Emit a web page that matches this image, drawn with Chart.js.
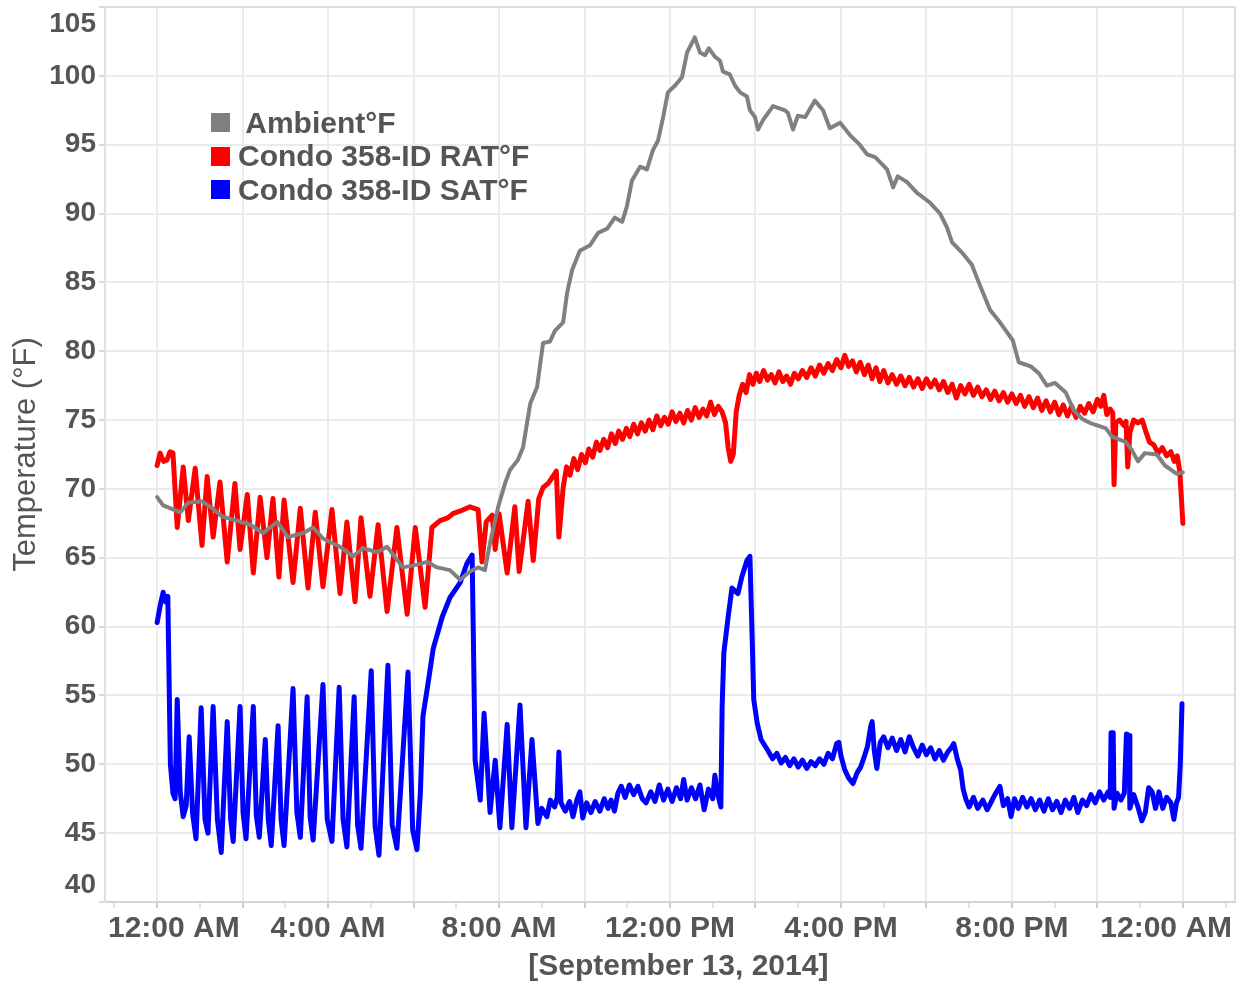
<!DOCTYPE html>
<html>
<head>
<meta charset="utf-8">
<script src="https://cdn.jsdelivr.net/npm/chart.js@4"></script>
<style>
  body { margin: 0; background: #fff; }
  #wrap { position: relative; width: 1246px; height: 987px; }
  #legend { position: absolute; left: 211px; top: 106px; font: bold 30px "Liberation Sans", Arial, sans-serif; color: #555; }
  .row { display: flex; align-items: center; height: 33.5px; white-space: pre; }
  .box { width: 19px; height: 19px; margin-right: 8px; }
</style>
</head>
<body>
<div id="wrap">
  <canvas id="chart" width="1246" height="987"></canvas>
  <div id="legend"></div>
</div>
<script>
// hours after midnight, Sept 13 2014
const tickHours = [0, 4, 8, 12, 16, 20, 24];
const tickLabels = ['12:00 AM', '4:00 AM', '8:00 AM', '12:00 PM', '4:00 PM', '8:00 PM', '12:00 AM'];

const seriesNames = [' Ambient°F', 'Condo 358-ID RAT°F', 'Condo 358-ID SAT°F'];
const seriesColors = ['#808080', '#ff0000', '#0000ff'];

const ambientHours = [0, 0.14, 0.30, 0.54, 0.73, 1.05, 1.29, 1.52, 1.87, 2.18, 2.48, 2.81, 3.06, 3.42, 3.65, 3.88,
  4.28, 4.58, 4.82, 5.15, 5.38, 5.75, 6.08, 6.32, 6.55, 6.85, 7.09, 7.32, 7.51, 7.67, 7.79, 7.98, 8.14, 8.26,
  8.44, 8.56, 8.73, 8.89, 9.03, 9.19, 9.31, 9.50, 9.59, 9.71, 9.89, 10.13, 10.32, 10.53, 10.71, 10.88, 10.99,
  11.11, 11.30, 11.46, 11.60, 11.72, 11.84, 11.95, 12.12, 12.28, 12.40, 12.58, 12.70, 12.82, 12.91, 13.05,
  13.17, 13.24, 13.40, 13.52, 13.64, 13.80, 13.87, 13.99, 14.06, 14.18, 14.41, 14.69, 14.76, 14.88, 14.99,
  15.16, 15.39, 15.58, 15.74, 15.98, 16.21, 16.44, 16.61, 16.80, 17.08, 17.22, 17.33, 17.54, 17.78, 18.08,
  18.32, 18.48, 18.60, 18.85, 19.06, 19.25, 19.49, 19.72, 20.02, 20.16, 20.44, 20.63, 20.82, 21.01, 21.26,
  21.45, 21.64, 21.82, 22.01, 22.20, 22.34, 22.67, 22.81, 22.95, 23.11, 23.39, 23.58, 23.86, 24.0];
const ambientTemps = [69.4, 68.8, 68.6, 68.3, 69.0, 69.1, 68.6, 68.0, 67.7, 67.4, 66.8, 67.6, 66.5, 66.8, 67.2, 66.4,
  65.8, 65.1, 65.7, 65.4, 65.8, 64.3, 64.5, 64.7, 64.3, 64.1, 63.4, 64.0, 64.3, 64.1, 66.1, 68.7, 70.4, 71.4,
  72.1, 73.0, 76.2, 77.4, 80.6, 80.7, 81.5, 82.1, 84.2, 85.9, 87.3, 87.7, 88.6, 88.9, 89.7, 89.4, 90.5,
  92.4, 93.4, 93.2, 94.6, 95.3, 97.0, 98.8, 99.3, 99.9, 101.7, 102.8, 101.7, 101.5, 102.0, 101.4,
  101.1, 100.3, 100.1, 99.3, 98.8, 98.5, 97.5, 97.0, 96.1, 96.8, 97.8, 97.5, 97.3, 96.1, 97.1,
  97.0, 98.2, 97.5, 96.2, 96.6, 95.7, 95.0, 94.3, 94.1, 93.2, 91.9, 92.7, 92.3, 91.5, 90.8,
  90.0, 89.0, 87.9, 87.1, 86.3, 84.8, 83.0, 82.1, 80.8, 79.2, 78.9, 78.4, 77.5, 77.7, 77.0,
  75.7, 75.1, 74.8, 74.6, 74.4, 73.8, 73.4, 72.8, 72.0, 72.6, 72.5, 71.7, 71.1, 71.2];

const ratHours = [0, 0.07, 0.15, 0.23, 0.30, 0.37, 0.47, 0.61, 0.73, 0.89, 1.05, 1.17, 1.31, 1.47, 1.64, 1.82,
  1.94, 2.11, 2.25, 2.41, 2.57, 2.71, 2.85, 2.97, 3.18, 3.35, 3.53, 3.70, 3.88, 4.09, 4.28, 4.44, 4.63, 4.77,
  4.98, 5.17, 5.38, 5.61, 5.85, 6.04, 6.27, 6.43, 6.62, 6.80, 6.92, 7.10, 7.32, 7.51, 7.60, 7.70, 7.84, 7.91,
  8.00, 8.19, 8.37, 8.47, 8.68, 8.80, 8.93, 9.03, 9.15, 9.26, 9.34, 9.40, 9.50,
  9.58, 9.66, 9.75, 9.84, 9.93, 10.02, 10.10, 10.19, 10.28, 10.36, 10.45, 10.54, 10.63, 10.72, 10.80, 10.89,
  10.98, 11.06, 11.15, 11.24, 11.33, 11.42, 11.51, 11.60, 11.69, 11.78, 11.87, 11.96, 12.05, 12.14, 12.23,
  12.32, 12.41, 12.50, 12.59, 12.68, 12.77, 12.86, 12.95, 13.04, 13.13, 13.22, 13.30, 13.36, 13.42, 13.48,
  13.55, 13.62, 13.70, 13.78, 13.86, 13.94, 14.02, 14.10, 14.19, 14.28, 14.37, 14.46, 14.55, 14.64, 14.73,
  14.82, 14.91, 15.00, 15.10, 15.20, 15.30, 15.40, 15.50, 15.60, 15.70, 15.80, 15.90, 16.00, 16.09, 16.18,
  16.27, 16.36, 16.45, 16.55, 16.64, 16.73, 16.82, 16.91, 17.00, 17.10, 17.20, 17.30, 17.40, 17.50, 17.60,
  17.70, 17.80, 17.90, 18.00, 18.10, 18.20, 18.30, 18.40, 18.50, 18.60, 18.70, 18.80, 18.90, 19.00, 19.10,
  19.20, 19.30, 19.40, 19.50, 19.60, 19.70, 19.80, 19.90, 20.00, 20.10, 20.20, 20.30, 20.40, 20.50, 20.60,
  20.70, 20.80, 20.90, 21.00, 21.10, 21.20, 21.30, 21.40, 21.50, 21.60, 21.70, 21.80, 21.90, 22.00, 22.08,
  22.15, 22.22, 22.30, 22.36, 22.39, 22.43, 22.52, 22.62, 22.67, 22.71, 22.76, 22.85, 22.95, 23.05, 23.13,
  23.22, 23.32, 23.42, 23.52, 23.62, 23.72, 23.80, 23.87, 23.93, 24.0];
const ratTemps = [71.7, 72.6, 72.0, 72.1, 72.7, 72.6, 67.2, 71.6, 67.7, 71.5, 65.9, 70.9, 66.5, 70.5, 64.7, 70.4,
  65.6, 69.6, 63.9, 69.4, 65.0, 69.3, 63.6, 69.2, 63.2, 68.6, 62.8, 68.3, 62.9, 68.5, 62.4, 67.6, 61.8, 67.9,
  62.2, 67.4, 61.1, 67.2, 60.9, 67.2, 61.4, 67.2, 67.7, 67.9, 68.2, 68.4, 68.7, 68.5, 64.7, 67.6, 68.1, 65.6,
  68.2, 63.9, 68.7, 64.0, 69.1, 64.8, 69.3, 70.1, 70.4, 70.9, 71.3, 66.5, 70.1,
  71.6, 71.0, 72.2, 71.4, 72.5, 71.9, 72.9, 72.3, 73.4, 72.8, 73.6, 73.0, 74.0, 73.3, 74.2, 73.6,
  74.4, 73.8, 74.7, 74.0, 74.8, 74.2, 75.0, 74.3, 75.3, 74.6, 75.2, 74.7, 75.6, 74.9, 75.5,
  74.8, 75.7, 75.0, 75.9, 75.2, 75.8, 75.3, 76.3, 75.4, 76.0, 75.6, 74.8, 73.0, 72.0, 72.5,
  75.6, 76.8, 77.6, 77.0, 78.3, 77.6, 78.4, 77.8, 78.6, 77.9, 78.3, 77.7, 78.5, 77.8, 78.2,
  77.6, 78.4, 78.0, 78.6, 78.1, 78.8, 78.2, 79.0, 78.4, 79.1, 78.6, 79.4, 78.8, 79.7, 78.9,
  79.3, 78.5, 79.2, 78.3, 79.0, 78.0, 78.8, 77.8, 78.6, 77.7, 78.3, 77.6, 78.2, 77.5, 78.1,
  77.4, 78.0, 77.3, 78.0, 77.4, 77.9, 77.2, 77.8, 77.0, 77.6, 76.6, 77.5, 76.9, 77.6, 76.8,
  77.4, 76.7, 77.2, 76.5, 77.1, 76.4, 77.0, 76.3, 76.9, 76.2, 76.8, 76.0, 76.7, 75.9, 76.6,
  75.7, 76.4, 75.6, 76.3, 75.4, 76.1, 75.3, 76.0, 75.2, 76.0, 75.5, 76.2, 75.6, 76.5, 76.0,
  76.8, 75.4, 75.8, 75.5, 70.3, 74.8, 75.0, 74.6, 74.9, 71.6, 74.1, 75.0, 74.8, 75.0, 74.2,
  73.4, 73.2, 72.6, 73.0, 72.4, 72.7, 72.0, 72.4, 71.2, 67.5];

const satHours = [0, 0.07, 0.14, 0.20, 0.25, 0.28, 0.31, 0.37, 0.42, 0.47, 0.54, 0.61, 0.68, 0.75, 0.83, 0.91,
  1.03, 1.12, 1.19, 1.31, 1.41, 1.50, 1.64, 1.72, 1.78, 1.94, 2.01, 2.08, 2.25, 2.32, 2.39, 2.53, 2.60, 2.67,
  2.83, 2.90, 2.97, 3.18, 3.27, 3.35, 3.51, 3.58, 3.65, 3.88, 3.98, 4.09, 4.26, 4.35, 4.44, 4.61, 4.69, 4.77,
  5.01, 5.10, 5.19, 5.40, 5.50, 5.61, 5.87, 5.98, 6.08, 6.16, 6.22, 6.32, 6.46, 6.67, 6.85, 7.09, 7.25, 7.37,
  7.40, 7.44, 7.56, 7.65, 7.79, 7.91, 8.02, 8.19, 8.30, 8.49, 8.63, 8.77, 8.91,
  9.00, 9.12, 9.20, 9.30, 9.36, 9.40, 9.45, 9.55, 9.65, 9.73, 9.82, 9.89, 9.96, 10.05, 10.15, 10.25, 10.36,
  10.46, 10.55, 10.62, 10.70, 10.78, 10.86, 10.95, 11.05, 11.15, 11.25, 11.35, 11.44, 11.55, 11.65, 11.75,
  11.85, 11.95, 12.05, 12.15, 12.25, 12.32, 12.40, 12.50, 12.60, 12.70, 12.80, 12.90, 13.00, 13.05, 13.12,
  13.19, 13.22, 13.26, 13.36, 13.45, 13.59, 13.68, 13.80, 13.87, 13.92, 13.96, 14.04, 14.13, 14.29, 14.40,
  14.50, 14.60, 14.70, 14.80, 14.90, 15.00, 15.10, 15.20, 15.30, 15.40, 15.50, 15.60, 15.70, 15.80, 15.90,
  15.95, 16.00, 16.09, 16.18, 16.28, 16.38, 16.46, 16.54, 16.62, 16.70, 16.73, 16.78, 16.84, 16.92, 17.00,
  17.10, 17.20, 17.30, 17.40, 17.50, 17.60, 17.70, 17.80, 17.90, 18.00, 18.10, 18.20, 18.30, 18.40, 18.50,
  18.60, 18.64, 18.72, 18.80, 18.86, 18.92, 19.00, 19.10, 19.20, 19.32, 19.42, 19.52, 19.62, 19.72, 19.80,
  19.90, 19.98, 20.06, 20.15, 20.25, 20.35, 20.45, 20.55, 20.65, 20.75, 20.85, 20.95, 21.05, 21.15, 21.25,
  21.35, 21.45, 21.54, 21.65, 21.75, 21.85, 21.95, 22.05, 22.15, 22.25, 22.30, 22.32, 22.37, 22.39, 22.46,
  22.55, 22.63, 22.68, 22.74, 22.76, 22.85, 22.95, 23.04, 23.12, 23.20, 23.28, 23.36, 23.44, 23.53, 23.62,
  23.72, 23.79, 23.85, 23.90, 23.94, 23.98];
const satTemps = [60.3, 61.5, 62.5, 61.8, 62.2, 56.0, 50.0, 47.9, 47.5, 54.7, 48.0, 46.2, 47.0, 52.0, 46.4, 44.6,
  54.1, 46.0, 45.0, 54.2, 46.0, 43.6, 53.1, 46.0, 44.4, 54.2, 46.5, 44.6, 54.2, 46.3, 44.7, 51.8, 46.0, 44.1,
  52.8, 46.0, 44.1, 55.5, 46.5, 44.7, 54.9, 46.2, 44.5, 55.8, 46.0, 44.4, 55.6, 46.0, 44.0, 54.9, 45.6, 43.9,
  56.8, 45.5, 43.4, 57.2, 45.6, 43.9, 56.7, 45.2, 43.8, 48.0, 53.5, 55.5, 58.4, 60.7, 62.1, 63.2, 64.6, 65.2,
  59.0, 50.3, 47.4, 53.7, 46.5, 50.3, 45.4, 52.9, 45.4, 54.3, 45.4, 51.8, 45.7,
  46.8, 46.2, 47.4, 46.9, 47.6, 50.9, 47.2, 46.6, 47.3, 46.2, 47.4, 48.0, 46.1, 47.2, 46.5, 47.3, 46.6,
  47.5, 46.8, 47.4, 46.6, 47.9, 48.4, 47.6, 48.5, 47.8, 48.4, 47.5, 47.2, 48.0, 47.3, 48.5,
  47.4, 48.2, 47.3, 48.3, 47.5, 48.9, 47.4, 48.3, 47.5, 48.5, 46.7, 48.2, 47.5, 49.2, 47.8,
  46.9, 54.2, 58.1, 60.7, 62.8, 62.4, 63.6, 64.8, 65.1, 59.5, 54.7, 53.0, 51.8, 51.0, 50.4,
  50.8, 50.1, 50.5, 49.9, 50.4, 49.8, 50.3, 49.7, 50.2, 49.9, 50.4, 50.0, 50.8, 50.4, 51.5,
  51.6, 50.6, 49.6, 49.0, 48.6, 49.4, 49.8, 50.5, 51.3, 52.8, 53.1, 51.0, 49.7, 51.6, 52.0,
  51.2, 51.9, 51.0, 51.8, 50.9, 52.0, 51.2, 50.6, 51.4, 50.7, 51.2, 50.4, 51.0, 50.3, 50.9,
  51.3, 51.5, 50.4, 49.6, 48.2, 47.5, 46.9, 47.6, 46.8, 47.4, 46.7, 47.3, 47.9, 48.4, 47.0,
  47.5, 46.2, 47.5, 46.8, 47.6, 46.9, 47.5, 46.7, 47.4, 46.6, 47.5, 46.7, 47.3, 46.5, 47.4,
  46.8, 47.6, 46.5, 47.4, 47.0, 47.8, 47.2, 48.0, 47.4, 48.0, 47.6, 52.3, 52.3, 46.8, 47.9,
  47.4, 47.9, 52.2, 52.1, 46.8, 47.8, 46.9, 45.9, 46.5, 48.3, 48.0, 46.8, 48.0, 46.8, 47.6,
  47.2, 46.0, 47.2, 47.6, 50.0, 54.4];

const pairs = (xs, ys) => xs.map((x, i) => ({ x: x, y: ys[i] }));

const legend = document.getElementById('legend');
seriesNames.forEach((name, i) => {
  const row = document.createElement('div');
  row.className = 'row';
  row.innerHTML = '<span class="box" style="background:' + seriesColors[i] + '"></span><span>' + name + '</span>';
  legend.appendChild(row);
});

const fontFamily = '"Liberation Sans", Arial, sans-serif';
const textColor = '#555555';

// thin frame on the right side of the plot
const frame = {
  id: 'frame',
  beforeDatasetsDraw(chart) {
    const a = chart.chartArea, ctx = chart.ctx;
    ctx.save();
    ctx.strokeStyle = '#dddddd';
    ctx.lineWidth = 2;
    ctx.beginPath();
    ctx.moveTo(a.right, a.top);
    ctx.lineTo(a.right, a.bottom);
    ctx.stroke();
    ctx.restore();
  }
};

new Chart(document.getElementById('chart'), {
  type: 'line',
  data: {
    datasets: [
      { label: seriesNames[0], data: pairs(ambientHours, ambientTemps), borderColor: seriesColors[0], borderWidth: 4 },
      { label: seriesNames[1], data: pairs(ratHours, ratTemps), borderColor: seriesColors[1], borderWidth: 5 },
      { label: seriesNames[2], data: pairs(satHours, satTemps), borderColor: seriesColors[2], borderWidth: 5 }
    ]
  },
  options: {
    responsive: false,
    animation: false,
    layout: { padding: { left: 0, right: 11, top: 7, bottom: 0 } },
    elements: {
      point: { radius: 0 },
      line: { tension: 0, borderJoinStyle: 'round', borderCapStyle: 'round' }
    },
    plugins: {
      legend: { display: false },
      tooltip: { enabled: false }
    },
    scales: {
      x: {
        type: 'linear',
        min: -1.22,
        max: 25.22,
        border: { color: '#d4d4d4', width: 2 },
        grid: {
          color: c => (c.tick && c.tick.value % 2 === 0) ? '#ebebeb' : 'rgba(0,0,0,0)',
          lineWidth: 2,
          tickLength: 6,
          tickWidth: 2,
          tickColor: c => (c.tick && c.tick.value % 2 === 0) ? '#cccccc' : '#e2e2e2'
        },
        ticks: {
          stepSize: 1,
          autoSkip: false,
          maxRotation: 0,
          includeBounds: false,
          padding: 3,
          color: textColor,
          font: { family: fontFamily, size: 30, weight: 'bold' },
          callback: v => {
            const i = tickHours.indexOf(v);
            if (i < 0) return '';
            if (i === 0) return '    ' + tickLabels[i];
            if (i === tickHours.length - 1) return tickLabels[i] + '    ';
            return tickLabels[i];
          }
        },
        title: {
          display: true,
          text: '  [September 13, 2014]',
          color: textColor,
          font: { family: fontFamily, size: 30, weight: 'bold' },
          padding: { top: 0, bottom: 2 }
        },
        afterFit: s => { s.height = 85; s.paddingLeft = 0; s.paddingRight = 0; }
      },
      y: {
        min: 40,
        max: 105,
        border: { color: '#e0e0e0', width: 2 },
        grid: {
          color: c => (c.tick && c.tick.value === 105) ? '#dddddd' : '#ebebeb',
          lineWidth: 2,
          tickLength: 6,
          tickWidth: 2,
          tickColor: '#d8d8d8'
        },
        ticks: {
          stepSize: 5,
          autoSkip: false,
          padding: 3,
          color: textColor,
          font: { family: fontFamily, size: 28, weight: 'bold' },
          callback: v => v === 105 ? ['', '105'] : (v === 40 ? ['40', ''] : String(v))
        },
        title: {
          display: true,
          text: 'Temperature (°F)',
          color: textColor,
          font: { family: fontFamily, size: 31, weight: 'normal' },
          padding: { top: 8, bottom: 0 }
        },
        afterFit: s => { s.width = 105; s.paddingTop = 0; s.paddingBottom = 0; }
      }
    }
  },
  plugins: [frame]
});
</script>
</body>
</html>
